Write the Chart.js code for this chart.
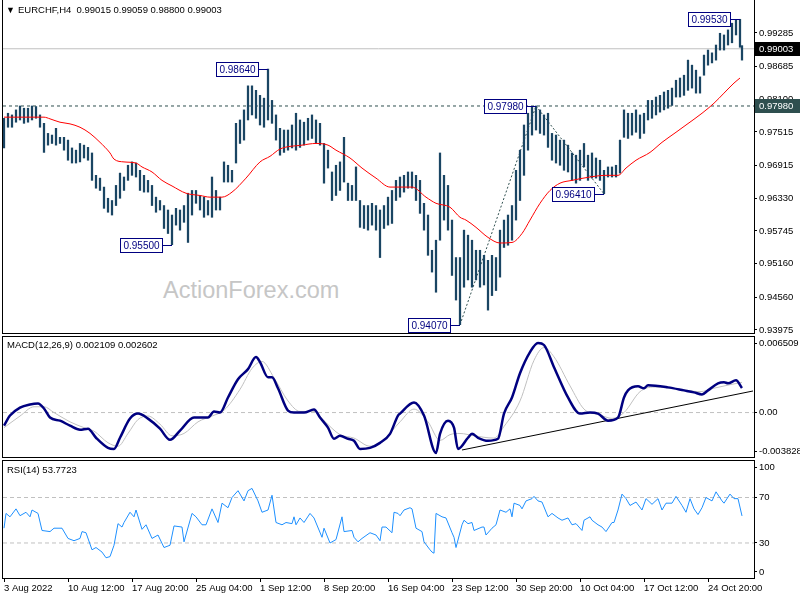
<!DOCTYPE html>
<html>
<head>
<meta charset="utf-8">
<script src="https://cdn.jsdelivr.net/npm/chart.js@4.4.0/dist/chart.umd.min.js"></script>
<style>
body { margin: 0; background: #fff; }
#wrap { position: relative; width: 800px; height: 600px; overflow: hidden; font-family: "Liberation Sans", Arial, sans-serif; }
canvas { position: absolute; left: 0; }
.lbl { position: absolute; font-size: 9.5px; color: #000; white-space: pre; line-height: 12px; z-index: 5; }
#wm { position: absolute; left: 163px; top: 277px; font-size: 23.5px; color: #c6c6c6; z-index: 0; }
</style>
</head>
<body>
<div id="wrap">
  <div id="wm">ActionForex.com</div>
  <canvas id="cMain" width="800" height="340" style="top:0"></canvas>
  <canvas id="cMacd" width="800" height="135" style="top:330px"></canvas>
  <canvas id="cRsi" width="800" height="148" style="top:452px"></canvas>
  <div class="lbl" style="left:6px;top:4px;font-size:9px">▼</div>
  <div class="lbl" style="left:18px;top:4px">EURCHF,H4  0.99015 0.99059 0.98800 0.99003</div>
  <div class="lbl" style="left:7px;top:339px">MACD(12,26,9) 0.002109 0.002602</div>
  <div class="lbl" style="left:7px;top:464px">RSI(14) 53.7723</div>
</div>
<script>
// ---------------- donnees (index = barre H4) ----------------

// [index, plus haut, plus bas]
const bars = [
[0,0.9776,0.9723],[2,0.9785,0.9760],[4,0.9782,0.9760],[6,0.9791,0.9769],[8,0.9798,0.9773],[10,0.9794,0.9767],[12,0.9794,0.9769],[14,0.9798,0.9773],[16,0.9797,0.9776],[18,0.9782,0.9760],
[20,0.9767,0.9715],[22,0.9749,0.9728],[24,0.9746,0.9731],[26,0.9758,0.9728],[28,0.9742,0.9731],[30,0.9742,0.9719],[32,0.9737,0.9701],[34,0.9723,0.9696],[36,0.9719,0.9696],[38,0.9731,0.9698],
[40,0.9728,0.9705],[42,0.9724,0.9701],[44,0.9714,0.9665],[46,0.9674,0.9651],[48,0.9669,0.9647],[50,0.9653,0.9615],[52,0.9633,0.9608],[54,0.9629,0.9603],[56,0.9656,0.9620],[58,0.9678,0.9633],
[60,0.9671,0.9647],[62,0.9692,0.9665],[64,0.9698,0.9674],[66,0.9696,0.9671],[68,0.9683,0.9647],[70,0.9674,0.9644],[72,0.9665,0.9644],[74,0.9656,0.9620],[76,0.9635,0.9608],[78,0.9629,0.9612],
[80,0.9620,0.9579],[82,0.9612,0.9570],[84,0.9603,0.9550],[86,0.9615,0.9585],[88,0.9612,0.9576],[90,0.9620,0.9590],[92,0.9642,0.9554],[94,0.9647,0.9603],[96,0.9647,0.9624],[98,0.9638,0.9612],
[100,0.9635,0.9599],[102,0.9629,0.9603],[104,0.9671,0.9599],[106,0.9647,0.9612],[108,0.9635,0.9612],[110,0.9698,0.9662],[112,0.9692,0.9662],[114,0.9683,0.9662],[116,0.9767,0.9696],[118,0.9773,0.9731],
[120,0.9791,0.9737],[122,0.9834,0.9773],[124,0.9834,0.9782],[126,0.9826,0.9776],[128,0.9817,0.9764],[130,0.9812,0.9760],[132,0.9864,0.9773],[134,0.9808,0.9767],[136,0.9782,0.9737],[138,0.9758,0.9710],
[140,0.9755,0.9715],[142,0.9755,0.9719],[144,0.9764,0.9723],[146,0.9785,0.9719],[148,0.9773,0.9724],[150,0.9769,0.9728],[152,0.9776,0.9737],[154,0.9782,0.9740],[156,0.9773,0.9731],[158,0.9767,0.9728],
[160,0.9731,0.9660],[162,0.9719,0.9687],[164,0.9680,0.9629],[166,0.9692,0.9638],[168,0.9698,0.9647],[170,0.9742,0.9662],[172,0.9660,0.9629],[174,0.9656,0.9629],[176,0.9689,0.9629],[178,0.9629,0.9581],
[180,0.9620,0.9579],[182,0.9620,0.9576],[184,0.9624,0.9585],[186,0.9620,0.9576],[188,0.9612,0.9527],[190,0.9620,0.9579],[192,0.9635,0.9585],[194,0.9647,0.9588],[196,0.9665,0.9629],[198,0.9671,0.9635],
[200,0.9674,0.9644],[202,0.9680,0.9651],[204,0.9680,0.9651],[206,0.9674,0.9629],[208,0.9665,0.9606],[210,0.9624,0.9576],[212,0.9603,0.9531],[214,0.9540,0.9501],[216,0.9558,0.9465],[218,0.9714,0.9558],
[220,0.9674,0.9594],[222,0.9656,0.9576],[224,0.9594,0.9495],[226,0.9527,0.9451],[228,0.9527,0.9407],[230,0.9576,0.9474],[232,0.9567,0.9487],[234,0.9558,0.9474],[236,0.9540,0.9487],[238,0.9540,0.9474],
[240,0.9531,0.9478],[242,0.9522,0.9433],[244,0.9531,0.9459],[246,0.9527,0.9468],[248,0.9576,0.9492],[250,0.9594,0.9545],[252,0.9603,0.9549],[254,0.9620,0.9558],[256,0.9683,0.9594],[258,0.9719,0.9629],
[260,0.9764,0.9674],[262,0.9785,0.9719],[264,0.9796,0.9746],[266,0.9798,0.9755],[268,0.9791,0.9749],[270,0.9782,0.9746],[272,0.9785,0.9724],[274,0.9749,0.9701],[276,0.9746,0.9696],[278,0.9737,0.9692],
[280,0.9737,0.9683],[282,0.9728,0.9680],[284,0.9714,0.9665],[286,0.9710,0.9660],[288,0.9719,0.9665],[290,0.9731,0.9689],[292,0.9710,0.9665],[294,0.9714,0.9669],[296,0.9705,0.9669],[298,0.9701,0.9665],
[300,0.9683,0.9641],[302,0.9689,0.9671],[304,0.9689,0.9671],[306,0.9692,0.9671],[308,0.9737,0.9678],[310,0.9791,0.9742],[312,0.9785,0.9740],[314,0.9785,0.9746],[316,0.9791,0.9751],[318,0.9782,0.9740],
[320,0.9785,0.9749],[322,0.9808,0.9773],[324,0.9808,0.9776],[326,0.9814,0.9782],[328,0.9817,0.9787],[330,0.9823,0.9791],[332,0.9826,0.9794],[334,0.9830,0.9799],[336,0.9844,0.9814],[338,0.9848,0.9814],
[340,0.9853,0.9817],[342,0.9880,0.9826],[344,0.9871,0.9830],[346,0.9862,0.9821],[348,0.9850,0.9821],[350,0.9889,0.9853],[352,0.9898,0.9871],[354,0.9893,0.9875],[356,0.9907,0.9880],[358,0.9928,0.9898],
[360,0.9925,0.9898],[362,0.9934,0.9907],[364,0.9946,0.9911],[366,0.9952,0.9925],[368,0.9953,0.9903],[369,0.99059,0.98800]
];

// moyenne mobile (rouge)
const maPts = [[0,0.9778],[20,0.9778],[23,0.9775],[28,0.9769],[33,0.9766],[38,0.9760],[43,0.9749],[48,0.9733],[53,0.9714],[55,0.9703],[60,0.9698],[66,0.9696],[69,0.9689],[74,0.9680],[79,0.9665],[84,0.9655],[91,0.9642],[98,0.9638],[103,0.9635],[109,0.9635],[114,0.9644],[121,0.9669],[128,0.9698],[133,0.9708],[138,0.9721],[149,0.9728],[156,0.9731],[162,0.9728],[166,0.9719],[173,0.9705],[179,0.9687],[186,0.9669],[193,0.9653],[204,0.9653],[211,0.9635],[216,0.9624],[223,0.9617],[228,0.9599],[231,0.9594],[236,0.9581],[242,0.9563],[248,0.9553],[254,0.9554],[259,0.9570],[263,0.9594],[268,0.9624],[273,0.9647],[278,0.9660],[284,0.9665],[293,0.9671],[301,0.9674],[307,0.9674],[311,0.9687],[316,0.9701],[323,0.9715],[329,0.9733],[336,0.9751],[341,0.9764],[349,0.9785],[355,0.9803],[360,0.9821],[365,0.9839],[368,0.9848]];

const macdPts = [[0,-0.00113],[3,-0.00026],[8,0.00043],[13,0.00070],[17,0.00078],[20,0.00035],[23,-0.00043],[28,-0.00070],[33,-0.00113],[38,-0.00148],[42,-0.00139],[46,-0.00217],[52,-0.00304],[55,-0.00313],[58,-0.00217],[63,-0.00052],[67,-0.00009],[72,-0.00052],[78,-0.00139],[83,-0.00235],[88,-0.00156],[95,-0.00043],[102,-0.00043],[105,0.00009],[108,0.00000],[112,0.00130],[117,0.00287],[122,0.00374],[126,0.00478],[128,0.00435],[132,0.00304],[134,0.00304],[137,0.00209],[142,0.00017],[145,0.00000],[150,0.00000],[155,0.00026],[158,-0.00043],[162,-0.00130],[165,-0.00226],[168,-0.00200],[172,-0.00226],[175,-0.00243],[178,-0.00313],[183,-0.00304],[188,-0.00261],[193,-0.00183],[197,-0.00026],[198,-0.00009],[205,0.00087],[210,-0.00026],[216,-0.00348],[218,-0.00183],[222,-0.00070],[225,-0.00130],[227,-0.00313],[232,-0.00217],[234,-0.00183],[237,-0.00217],[242,-0.00243],[247,-0.00226],[250,-0.00009],[254,0.00130],[258,0.00339],[263,0.00521],[267,0.00600],[270,0.00582],[275,0.00391],[282,0.00130],[288,-0.00009],[293,0.00000],[297,-0.00009],[302,-0.00070],[307,-0.00043],[310,0.00130],[312,0.00191],[317,0.00226],[320,0.00209],[322,0.00235],[332,0.00217],[340,0.00191],[345,0.00174],[349,0.00156],[352,0.00191],[357,0.00252],[360,0.00261],[362,0.00252],[366,0.00278],[369,0.002109]];

const signalPts = [[0,-0.0013],[8,-0.0003],[15,0.0005],[20,0.0005],[25,0.0000],[33,-0.0008],[40,-0.0013],[45,-0.0016],[52,-0.0026],[57,-0.0029],[62,-0.0018],[67,-0.0006],[72,-0.0003],[78,-0.0010],[84,-0.0020],[90,-0.0018],[97,-0.0008],[104,-0.0003],[110,0.0002],[118,0.0020],[124,0.0038],[129,0.0044],[135,0.0030],[142,0.0010],[148,0.0001],[155,0.0001],[160,-0.0007],[168,-0.0019],[175,-0.0022],[183,-0.0029],[190,-0.0023],[198,-0.0008],[205,0.0003],[212,-0.0008],[218,-0.0024],[223,-0.0019],[228,-0.0018],[235,-0.0020],[245,-0.0022],[250,-0.0012],[258,0.0010],[265,0.0045],[270,0.0056],[275,0.0048],[283,0.0023],[290,0.0003],[298,-0.0002],[304,-0.0005],[310,0.0000],[318,0.0018],[325,0.0022],[338,0.0020],[348,0.0018],[355,0.0021],[363,0.0024],[369,0.002602]];

const rsiPts = [[0,43],[1,56],[3,53],[6,60],[8,54],[11,57],[13,53],[14,59],[17,56],[19,41],[23,40],[25,43],[29,43],[32,34],[35,32],[38,34],[39,40],[41,39],[44,24],[46,26],[49,22],[51,17],[53,18],[55,28],[57,47],[59,44],[60,48],[63,57],[65,53],[66,59],[69,42],[71,46],[74,34],[77,37],[80,26],[83,28],[85,45],[89,44],[90,31],[94,56],[96,53],[99,46],[101,46],[104,60],[107,48],[109,65],[112,61],[114,70],[117,76],[120,67],[122,76],[124,78],[127,67],[129,57],[132,59],[134,72],[136,48],[139,46],[141,48],[144,47],[145,53],[146,46],[148,52],[150,48],[153,56],[155,52],[159,35],[160,43],[163,30],[166,33],[169,53],[170,40],[174,41],[175,35],[177,31],[179,34],[183,39],[186,37],[188,32],[189,44],[191,44],[194,39],[195,57],[197,56],[198,54],[200,59],[203,61],[204,60],[206,43],[209,40],[210,31],[213,24],[214,22],[215,21],[216,56],[219,53],[221,52],[224,39],[225,35],[226,26],[229,46],[230,50],[232,47],[234,48],[235,41],[239,44],[240,44],[241,37],[244,43],[246,46],[248,59],[251,57],[253,60],[254,53],[255,65],[258,63],[259,60],[261,67],[264,69],[265,71],[267,67],[269,66],[272,53],[274,56],[277,52],[279,50],[282,52],[284,46],[286,47],[289,41],[290,50],[293,53],[294,50],[297,46],[299,44],[301,40],[304,48],[305,48],[307,59],[309,73],[311,69],[313,63],[316,66],[319,59],[321,69],[324,64],[327,69],[329,59],[331,65],[334,65],[336,71],[339,63],[341,57],[343,69],[345,60],[347,55],[349,61],[351,70],[354,67],[356,75],[359,67],[360,65],[363,73],[365,69],[367,69],[369,53.77]];

// axes
const xTickIdx = [0,32,64,96,128,160,192,224,256,288,320,352];
const xLabels = ['3 Aug 2022','10 Aug 12:00','17 Aug 20:00','25 Aug 04:00','1 Sep 12:00','8 Sep 20:00','16 Sep 04:00','23 Sep 12:00','30 Sep 20:00','10 Oct 04:00','17 Oct 12:00','24 Oct 20:00'];
const priceTicks = [0.99285,0.98685,0.98100,0.97515,0.96915,0.96330,0.95745,0.95160,0.94560,0.93975];
const macdTickVals = [0.005992,0,-0.003371];
const macdTickLabels = ['0.006509','0.00','-0.003828'];
const rsiTickVals = [96.4,70,30,4.5];
const rsiTickLabels = ['100','70','30','0'];

// niveaux et annotations
const bidPrice = 0.99003;
const levelPrice = 0.97980;
const markIdx = [132,266,84,228,300,368];
const markVal = [0.98640,0.97980,0.95500,0.94070,0.96410,0.99530];
const trendUp = [[228,0.94070],[266,0.97980]];
const trendDown = [[266,0.97980],[300,0.96410]];
const macdTrend = [[229,-0.003225],[374.5,0.001858]];
const rsiLevels = [70,30];

// ------------------------------------------------------------
const FONT = {family: '"Liberation Sans", Arial, sans-serif', size: 9.5};
const xy = pts => pts.map(p => ({x: p[0], y: p[1]}));
const flat = v => [{x: -0.5, y: v}, {x: 375, y: v}];

const frame = {
    id: 'frame',
    afterDraw(c) {
        const a = c.chartArea, ctx = c.ctx;
        ctx.save();
        ctx.strokeStyle = '#000';
        ctx.lineWidth = 1;
        ctx.strokeRect(a.left - 0.5, a.top - 0.5, a.right - a.left + 1, a.bottom - a.top + 1);
        ctx.restore();
    }
};

function xAxis(show) {
    const o = {type: 'linear', min: -0.5, max: 375, offset: false, display: show,
        grid: {display: false}, border: {display: false}};
    if (show) {
        o.grid = {display: true, drawOnChartArea: false, drawTicks: true, tickLength: 4, color: '#000'};
        o.ticks = {align: 'start', padding: 1, autoSkip: false, maxRotation: 0, color: '#000', font: FONT,
            callback: (v, i) => xLabels[i]};
        o.afterBuildTicks = s => { s.ticks = xTickIdx.map(v => ({value: v})); };
        o.afterFit = s => { s.height = 22; s.paddingLeft = 0; s.paddingRight = 0; };
    }
    return o;
}

function yAxis(min, max, vals, cb) {
    return {type: 'linear', position: 'right', min: min, max: max,
        grid: {drawOnChartArea: false, drawTicks: true, tickLength: 3, color: '#000'},
        border: {display: false},
        ticks: {padding: 2, color: '#000', font: FONT, autoSkip: false, callback: cb},
        afterBuildTicks: s => { s.ticks = vals.map(v => ({value: v})); },
        afterFit: s => { s.width = 46; s.paddingTop = 0; s.paddingBottom = 0; }};
}

const baseOpts = {animation: false, responsive: false, events: [],
    plugins: {legend: {display: false}, tooltip: {enabled: false}}};

// ---- annotations prix (boites bleues) ----
const marks = {
    id: 'marks',
    afterDatasetsDraw(c) {
        const ctx = c.ctx, xs = c.scales.x, ys = c.scales.y;
        ctx.save();
        ctx.font = '10px "Liberation Sans", Arial, sans-serif';
        ctx.textAlign = 'center';
        ctx.textBaseline = 'middle';
        ctx.lineWidth = 1;
        markIdx.forEach((m, k) => {
            const px = Math.round(xs.getPixelForValue(m));
            const py = Math.round(ys.getPixelForValue(markVal[k])) + 0.5;
            const bx = px - 51.5;
            ctx.fillStyle = '#fff';
            ctx.fillRect(bx, py - 7, 42, 14);
            ctx.strokeStyle = '#000080';
            ctx.strokeRect(bx, py - 7, 42, 14);
            ctx.beginPath();
            ctx.moveTo(bx + 42, py);
            ctx.lineTo(px, py);
            ctx.stroke();
            ctx.fillStyle = '#000080';
            ctx.fillText(markVal[k].toFixed(5), bx + 21, py + 0.5);
        });
        ctx.restore();
    },
    afterDraw(c) {
        // etiquettes sur l'axe de droite
        const ctx = c.ctx, ys = c.scales.y;
        ctx.save();
        ctx.font = '9.5px "Liberation Sans", Arial, sans-serif';
        ctx.textBaseline = 'middle';
        [[bidPrice, '#000000'], [levelPrice, '#2f4f4f']].forEach(p => {
            const py = Math.round(ys.getPixelForValue(p[0]));
            ctx.fillStyle = p[1];
            ctx.fillRect(755, py - 7, 45, 14);
            ctx.fillStyle = '#fff';
            ctx.fillText(p[0].toFixed(5), 759, py + 0.5);
        });
        ctx.restore();
    }
};

new Chart(document.getElementById('cMain'), {
    type: 'line',
    data: {
        datasets: [
            {data: xy(maPts), borderColor: '#ff0000', borderWidth: 1, pointRadius: 0, cubicInterpolationMode: 'monotone'},
            {type: 'bar', data: bars.map(b => ({x: b[0], y: [b[2], b[1]]})), backgroundColor: '#1a4563', barThickness: 1.6, grouped: false},
            {data: xy(trendUp), borderColor: '#2f4f4f', borderWidth: 1, borderDash: [2, 2], pointRadius: 0},
            {data: xy(trendDown), borderColor: '#2f4f4f', borderWidth: 1, borderDash: [2, 2], pointRadius: 0},
            {data: flat(levelPrice), borderColor: '#2f4f4f', borderWidth: 1, borderDash: [3, 3], pointRadius: 0},
            {data: flat(bidPrice), borderColor: '#c0c0c0', borderWidth: 1, pointRadius: 0}
        ]
    },
    options: Object.assign({}, baseOpts, {
        layout: {padding: {left: 3, top: 0, right: 0, bottom: 7}},
        scales: {x: xAxis(false), y: yAxis(0.93921, 0.99875, priceTicks, v => v.toFixed(5))}
    }),
    plugins: [frame, marks]
});

new Chart(document.getElementById('cMacd'), {
    type: 'line',
    data: {
        datasets: [
            {data: xy(macdPts), borderColor: '#000080', borderWidth: 2.5, pointRadius: 0, cubicInterpolationMode: 'monotone'},
            {data: xy(signalPts), borderColor: '#c0c0c0', borderWidth: 1, pointRadius: 0, cubicInterpolationMode: 'monotone'},
            {data: xy(macdTrend), borderColor: '#000', borderWidth: 1, pointRadius: 0},
            {data: flat(0), borderColor: '#c0c0c0', borderWidth: 1, borderDash: [4, 3], pointRadius: 0}
        ]
    },
    options: Object.assign({}, baseOpts, {
        layout: {padding: {left: 3, top: 7, right: 0, bottom: 8}},
        scales: {x: xAxis(false), y: yAxis(-0.003828, 0.006509, macdTickVals, (v, i) => macdTickLabels[i])}
    }),
    plugins: [frame]
});

new Chart(document.getElementById('cRsi'), {
    type: 'line',
    data: {
        datasets: [
            {data: xy(rsiPts), borderColor: '#1e90ff', borderWidth: 1, pointRadius: 0},
            {data: flat(rsiLevels[0]), borderColor: '#c0c0c0', borderWidth: 1, borderDash: [4, 3], pointRadius: 0},
            {data: flat(rsiLevels[1]), borderColor: '#c0c0c0', borderWidth: 1, borderDash: [4, 3], pointRadius: 0}
        ]
    },
    options: Object.assign({}, baseOpts, {
        layout: {padding: {left: 3, top: 9, right: 0, bottom: 0}},
        scales: {x: xAxis(true), y: yAxis(-0.8, 102.1, rsiTickVals, (v, i) => rsiTickLabels[i])}
    }),
    plugins: [frame]
});
</script>
</body>
</html>
